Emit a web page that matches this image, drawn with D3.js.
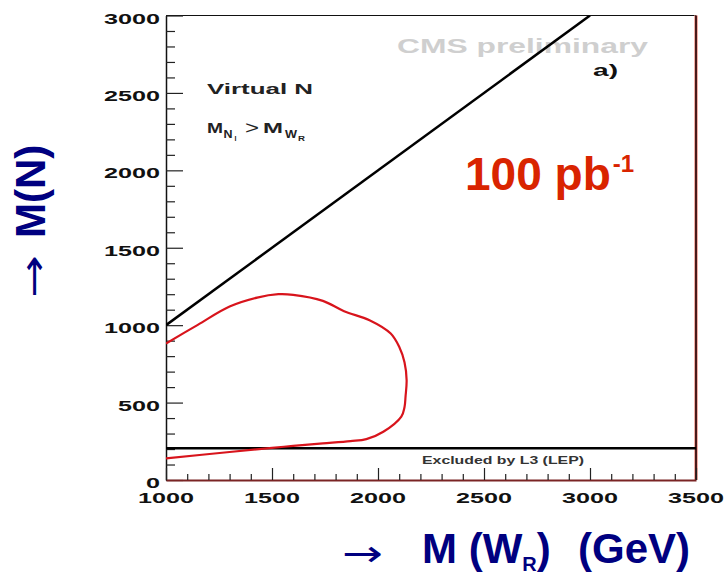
<!DOCTYPE html>
<html>
<head>
<meta charset="utf-8">
<script src="https://cdn.jsdelivr.net/npm/d3@7"></script>
<style>
  html, body { margin: 0; padding: 0; background: #fff; }
  svg { display: block; font-family: "Liberation Sans", Arial, Helvetica, sans-serif; }
</style>
</head>
<body>
<svg id="chart" width="724" height="576"></svg>
<script>
// Axis ranges and tick labels
const xDomain = [1000, 3500];
const yDomain = [0, 3000];
const xTickLabels = [1000, 1500, 2000, 2500, 3000, 3500];
const yTickLabels = [0, 500, 1000, 1500, 2000, 2500, 3000];

// Kinematic limit M(N) = M(W_R)
const limitWR = [1000, 3000];
const limitN  = [1000, 3000];

// L3 (LEP) lower bound on M(N)
const lepBound = 205;

// 100 pb^-1 discovery contour
const contourWR = [1000, 1150, 1300, 1430, 1530, 1600, 1740, 1840, 1960, 2060, 2100, 2125, 2135, 2130, 2125, 2110, 2025, 1945, 1870, 1740, 1600, 1500, 1300, 1000];
const contourN  = [ 882, 1002, 1120, 1178, 1200, 1196, 1157, 1090, 1032,  946,  860,  760,  645,  540,  470,  410,  312,  264,  251,  236,  220,  208,  181,  140];

const svg = d3.select("#chart");
const x = d3.scaleLinear().domain(xDomain).range([166, 696]);
const y = d3.scaleLinear().domain(yDomain).range([480, 15.5]);

svg.append("defs").append("clipPath").attr("id", "plotClip")
  .append("rect")
  .attr("x", x(xDomain[0])).attr("y", y(yDomain[1]))
  .attr("width", x(xDomain[1]) - x(xDomain[0]))
  .attr("height", y(yDomain[0]) - y(yDomain[1]));

// Frame: top (black), right (dark red with soft edge)
svg.append("line")
  .attr("x1", x(xDomain[0])).attr("x2", x(xDomain[1]))
  .attr("y1", y(yDomain[1])).attr("y2", y(yDomain[1]))
  .attr("stroke", "#111").attr("stroke-width", 1.2);
svg.append("line")
  .attr("x1", x(xDomain[1])).attr("x2", x(xDomain[1]))
  .attr("y1", y(yDomain[1])).attr("y2", y(yDomain[0]))
  .attr("stroke", "#f3b0a8").attr("stroke-width", 4);
svg.append("line")
  .attr("x1", x(xDomain[1])).attr("x2", x(xDomain[1]))
  .attr("y1", y(yDomain[1])).attr("y2", y(yDomain[0]))
  .attr("stroke", "#4a1a1a").attr("stroke-width", 2);

// Y axis with inward ticks every 100
const yAxis = d3.axisRight(y)
  .tickValues(d3.range(0, 3001, 100))
  .tickSize(0).tickFormat("");
const gy = svg.append("g").attr("transform", `translate(${x(xDomain[0])},0)`).call(yAxis);
gy.select(".domain").attr("stroke", "#111").attr("stroke-width", 1.5);
gy.selectAll(".tick line")
  .attr("x2", d => d % 500 === 0 ? 17 : 9)
  .attr("stroke", "#222").attr("stroke-width", 1.2);

// X axis with inward ticks every 100
const xAxis = d3.axisTop(x)
  .tickValues(d3.range(1000, 3501, 100))
  .tickSize(0).tickFormat("");
const gx = svg.append("g").attr("transform", `translate(0,${y(0)})`).call(xAxis);
gx.select(".domain").attr("stroke", "#7a2424").attr("stroke-width", 1.8);
gx.selectAll(".tick line")
  .attr("y2", d => d % 500 === 0 ? -12 : -6)
  .attr("stroke", "#222").attr("stroke-width", 1.2);

// Tick labels (wide bold digits)
const charW = 14;
svg.append("g").selectAll("text").data(yTickLabels).join("text")
  .attr("x", d => 160 - String(d).length * charW)
  .attr("y", d => y(d) + 8)
  .attr("textLength", d => String(d).length * charW)
  .attr("lengthAdjust", "spacingAndGlyphs")
  .attr("font-size", 15).attr("font-weight", "bold").attr("fill", "#111")
  .text(d => d);
svg.append("g").selectAll("text").data(xTickLabels).join("text")
  .attr("x", d => x(d) - String(d).length * charW / 2)
  .attr("y", 503)
  .attr("textLength", d => String(d).length * charW)
  .attr("lengthAdjust", "spacingAndGlyphs")
  .attr("font-size", 14.5).attr("font-weight", "bold").attr("fill", "#111")
  .text(d => d);

// Watermark sits beneath the curves
svg.append("text").attr("x", 397).attr("y", 53)
  .attr("textLength", 251).attr("lengthAdjust", "spacingAndGlyphs")
  .attr("font-size", 19.5).attr("font-weight", "bold").attr("fill", "#cfcfcf")
  .text("CMS preliminary");

const plot = svg.append("g").attr("clip-path", "url(#plotClip)");

// LEP bound
plot.append("line")
  .attr("x1", x(xDomain[0])).attr("x2", x(xDomain[1]))
  .attr("y1", y(lepBound)).attr("y2", y(lepBound))
  .attr("stroke", "#000").attr("stroke-width", 2.5);

// Kinematic limit
plot.append("path")
  .datum(d3.zip(limitWR, limitN))
  .attr("d", d3.line().x(d => x(d[0])).y(d => y(d[1])))
  .attr("fill", "none").attr("stroke", "#000").attr("stroke-width", 2.5);

// Discovery contour
plot.append("path")
  .datum(d3.zip(contourWR, contourN))
  .attr("d", d3.line().curve(d3.curveCatmullRom.alpha(0.5)).x(d => x(d[0])).y(d => y(d[1])))
  .attr("fill", "none").attr("stroke", "#d8141c").attr("stroke-width", 2.2);

// Annotations inside the frame
svg.append("text").attr("x", 593).attr("y", 76)
  .attr("textLength", 25).attr("lengthAdjust", "spacingAndGlyphs")
  .attr("font-size", 16).attr("font-weight", "bold").attr("fill", "#111")
  .text("a)");
svg.append("text").attr("x", 207).attr("y", 94)
  .attr("textLength", 106).attr("lengthAdjust", "spacingAndGlyphs")
  .attr("font-size", 15).attr("font-weight", "bold").attr("fill", "#222")
  .text("Virtual N");

// M_{N_l} > M_{W_R}
const rel = svg.append("g").attr("font-weight", "bold").attr("fill", "#222");
rel.append("text").attr("x", 207).attr("y", 133).attr("font-size", 15)
  .attr("textLength", 16).attr("lengthAdjust", "spacingAndGlyphs").text("M");
rel.append("text").attr("x", 223.5).attr("y", 138).attr("font-size", 11)
  .attr("textLength", 9).attr("lengthAdjust", "spacingAndGlyphs").text("N");
rel.append("text").attr("x", 234.5).attr("y", 141).attr("font-size", 7)
  .attr("textLength", 2).attr("lengthAdjust", "spacingAndGlyphs").text("l");
rel.append("text").attr("x", 245).attr("y", 134).attr("font-size", 18)
  .attr("textLength", 14).attr("lengthAdjust", "spacingAndGlyphs").attr("font-weight", "normal").text(">");
rel.append("text").attr("x", 263).attr("y", 133).attr("font-size", 15)
  .attr("textLength", 20).attr("lengthAdjust", "spacingAndGlyphs").text("M");
rel.append("text").attr("x", 285).attr("y", 138).attr("font-size", 11)
  .attr("textLength", 12).attr("lengthAdjust", "spacingAndGlyphs").text("W");
rel.append("text").attr("x", 298).attr("y", 141).attr("font-size", 7)
  .attr("textLength", 7).attr("lengthAdjust", "spacingAndGlyphs").text("R");

svg.append("text").attr("x", 422).attr("y", 464)
  .attr("textLength", 162).attr("lengthAdjust", "spacingAndGlyphs")
  .attr("font-size", 10.5).attr("font-weight", "bold").attr("fill", "#333")
  .text("Excluded by L3 (LEP)");

// Integrated luminosity
const lumi = svg.append("text").attr("x", 465).attr("y", 190)
  .attr("font-weight", "bold").attr("fill", "#d92400").attr("font-size", 46);
lumi.append("tspan").text("100 pb");
lumi.append("tspan").attr("font-size", 24).attr("dy", -18).attr("dx", 2).text("-1");

// Axis titles
const navy = "#000080";
svg.append("text").attr("x", 342).attr("y", 566)
  .attr("textLength", 41).attr("lengthAdjust", "spacingAndGlyphs")
  .attr("font-family", "DejaVu Sans").attr("font-size", 36).attr("fill", navy)
  .text("→");
const xt = svg.append("text").attr("x", 422).attr("y", 563)
  .attr("font-weight", "bold").attr("font-size", 42).attr("fill", navy);
xt.append("tspan").text("M (W");
xt.append("tspan").attr("font-size", 20).attr("dy", 8).text("R");
xt.append("tspan").attr("dy", -8).text(")");
xt.append("tspan").attr("x", 578).text("(GeV)");

svg.append("text").attr("transform", "translate(46,298) rotate(-90)")
  .attr("textLength", 43).attr("lengthAdjust", "spacingAndGlyphs")
  .attr("font-family", "DejaVu Sans").attr("font-size", 36).attr("fill", navy)
  .text("→");
svg.append("text").attr("transform", "translate(45,238) rotate(-90)")
  .attr("font-weight", "bold").attr("font-size", 42).attr("fill", navy)
  .text("M(N)");
</script>
</body>
</html>
